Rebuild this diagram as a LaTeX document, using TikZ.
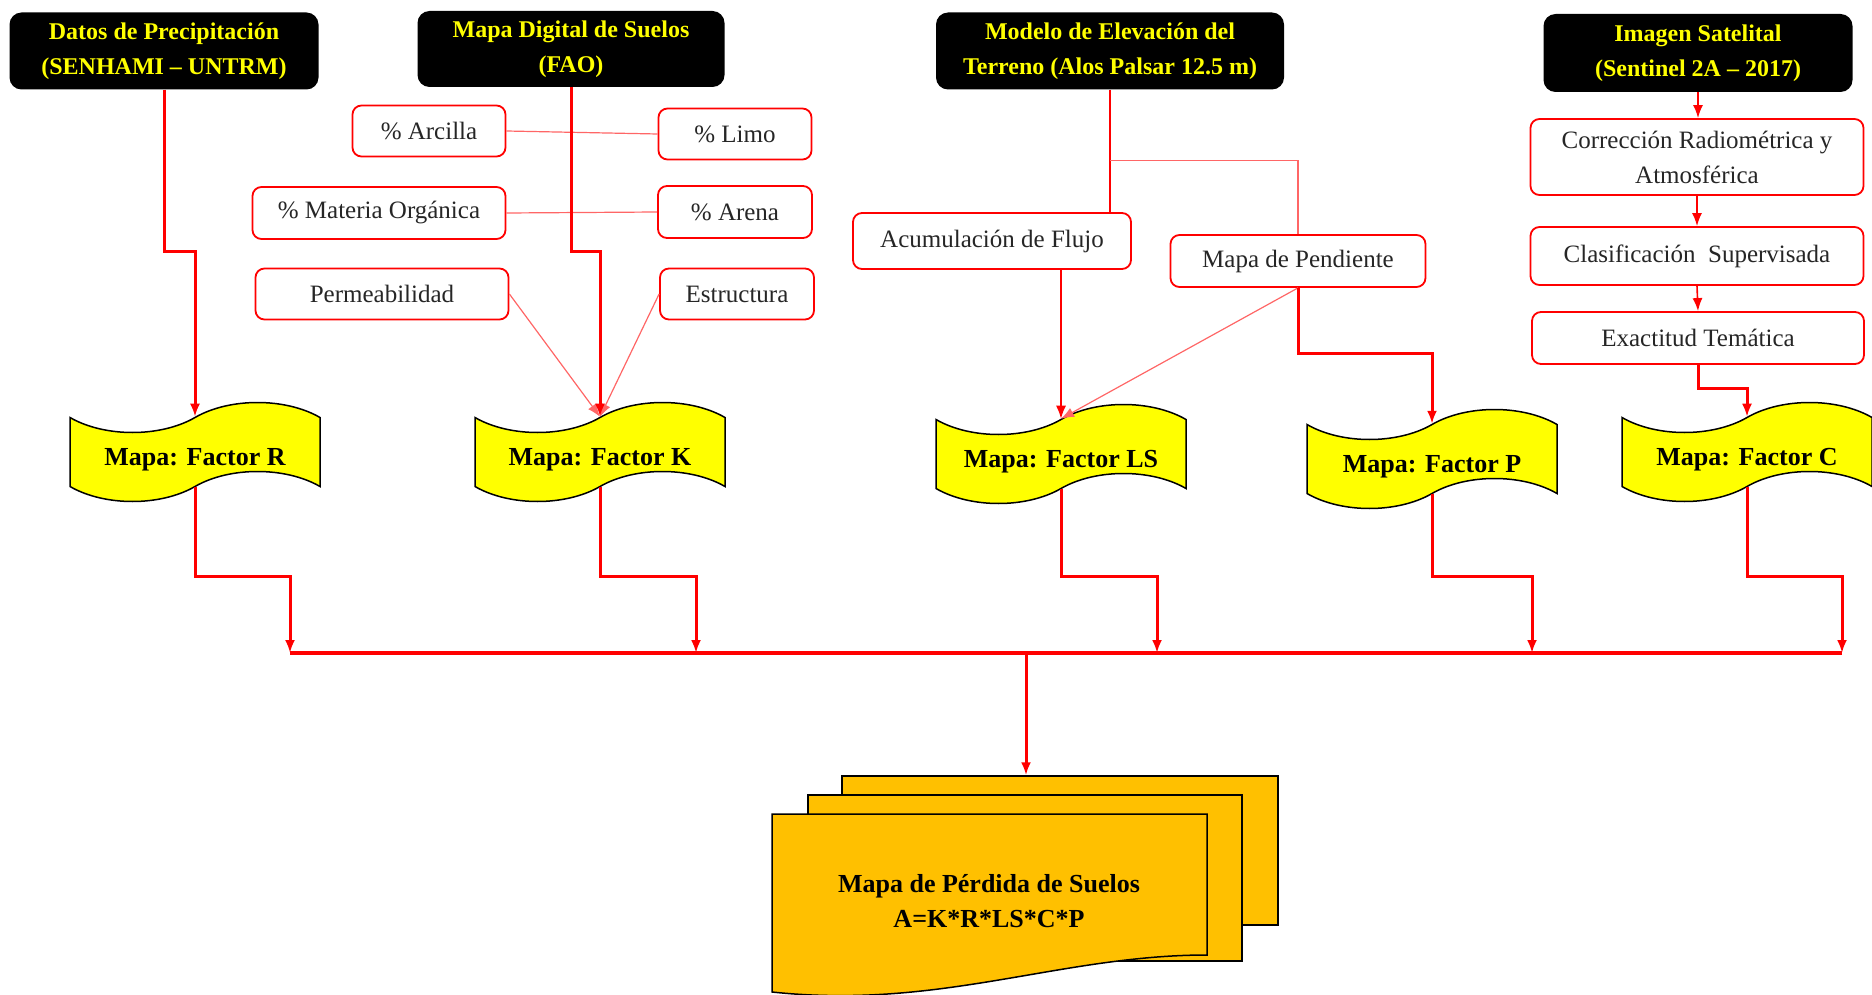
\documentclass[tikz,border=0pt]{standalone}
\usepackage{fontspec}
\setmainfont{Liberation Serif}
\usetikzlibrary{shapes.symbols, arrows.meta, positioning, calc}
\definecolor{rojo}{RGB}{255,0,0}
\definecolor{amarillo}{RGB}{255,255,0}
\definecolor{dorado}{RGB}{255,192,0}

\tikzset{
  fuente/.style={rounded corners=12pt, fill=black, text=amarillo, align=center,
    font=\fontsize{24}{35}\selectfont\bfseries, inner sep=2pt},
  proceso/.style={rounded corners=9pt, draw=rojo, line width=1.8pt, fill=white,
    text=black!85, align=center, font=\fontsize{25}{35}\selectfont, inner sep=2pt},
  factor/.style={tape, draw=black, line width=1.5pt, fill=amarillo,
    minimum width=250pt, minimum height=99pt, tape bend height=30pt,
    text height=29pt, text depth=3pt,
    font=\fontsize{26}{30}\selectfont\bfseries, inner sep=2pt},
  hoja/.style={draw=black, line width=1.5pt, fill=dorado},
  punta/.style={-{Latex[length=13pt,width=10pt]}},
  conn/.style={draw=rojo, line width=3pt, punta},
  fino/.style={draw=rojo, line width=1.6pt},
  tenue/.style={draw=rojo!60, line width=1.2pt},
  bus/.style={draw=rojo, line width=3.4pt},
}

\begin{document}
\begin{tikzpicture}[x=1pt,y=-1pt]
\useasboundingbox (0,0) rectangle (1872,995);

% Fuentes de datos
\node[fuente, minimum width=309pt, minimum height=77pt] (datos) at (164,51) {Datos de Precipitación\\(SENHAMI – UNTRM)};
\node[fuente, minimum width=307pt, minimum height=76pt] (suelos) at (571,49) {Mapa Digital de Suelos\\(FAO)};
\node[fuente, minimum width=348pt, minimum height=77pt] (dem) at (1110,51) {Modelo de Elevación del\\Terreno (Alos Palsar 12.5 m)};
\node[fuente, minimum width=309pt, minimum height=78pt] (sat) at (1698,53) {Imagen Satelital\\(Sentinel 2A – 2017)};

% Propiedades del suelo
\node[proceso, minimum width=153pt, minimum height=51pt] (arcilla) at (429,131) {\% Arcilla};
\node[proceso, minimum width=153pt, minimum height=51pt] (limo) at (735,134) {\% Limo};
\node[proceso, minimum width=253pt, minimum height=52pt] (materia) at (379,213) {\% Materia Orgánica};
\node[proceso, minimum width=154pt, minimum height=52pt] (arena) at (735,212) {\% Arena};
\node[proceso, minimum width=253pt, minimum height=51pt] (perm) at (382,294) {Permeabilidad};
\node[proceso, minimum width=154pt, minimum height=51pt] (estruct) at (737,294) {Estructura};

% Derivados del DEM
\node[proceso, minimum width=278pt, minimum height=56pt] (acum) at (992,241) {Acumulación de Flujo};
\node[proceso, minimum width=255pt, minimum height=52pt] (pend) at (1298,261) {Mapa de Pendiente};

% Procesamiento de la imagen
\node[proceso, minimum width=333pt, minimum height=76pt] (corr) at (1697,157) {Corrección Radiométrica y\\Atmosférica};
\node[proceso, minimum width=333pt, minimum height=58pt] (clas) at (1697,256) {Clasificación~ Supervisada};
\node[proceso, minimum width=332pt, minimum height=52pt] (exact) at (1698,338) {Exactitud Temática};

% Mapas de factores
\node[factor] (factR) at (195,452) {Mapa: Factor R};
\node[factor] (factK) at (600,452) {Mapa: Factor K};
\node[factor] (factLS) at (1061,454) {Mapa: Factor LS};
\node[factor] (factP) at (1432,459) {Mapa: Factor P};
\node[factor] (factC) at (1747,452) {Mapa: Factor C};

% Conectores superiores
\draw[conn] (datos.south) -- ++(0,162) -| (factR.north);
\draw[tenue] (arcilla.east) -- (limo.west);
\draw[tenue] (materia.east) -- (arena.west);
\draw[tenue, punta] (perm.east) -- (factK.north);
\draw[tenue, punta] (estruct.west) -- (factK.north);
\draw[conn] (suelos.south) -- ++(0,164) -| (factK.north);

\draw[fino] (dem.south) -- (dem.south |- acum.north);
\coordinate (ramal) at ($(dem.south)+(0,71)$);
\draw[tenue] (ramal) -| (pend.north);
\draw[fino, punta] (acum.south -| factLS.north) -- (factLS.north);
\draw[tenue, punta] (pend.south) -- (factLS.north);
\draw[conn] (pend.south) -- ++(0,66) -| (factP.north);

\draw[fino, punta] (sat.south) -- (sat.south |- corr.north);
\draw[fino, punta] (corr.south) -- (clas.north);
\draw[fino, punta] (clas.south) -- (exact.north);
\draw[conn] (exact.south) -- ++(0,24) -| (factC.north);

% Conectores al bus
\foreach \f/\x in {R/290,K/696,LS/1157,P/1532,C/1842}{
  \coordinate (jog\f) at (\x,576);
  \coordinate (in\f) at (\x,653);
  \draw[conn] (fact\f.south) |- (jog\f) -- (in\f);
}
\draw[bus] (inR) -- (inC);
\coordinate (bajada) at (1026,653);

% Mapa final
\node[hoja, minimum width=436pt, minimum height=149pt] (hoja3) at (1060,850.5) {};
\node[hoja, minimum width=434pt, minimum height=166pt] (hoja2) at (1025,878) {};
\draw[hoja] (772,814) -- (1207,814) -- (1207,955) .. controls (1060,955) and (940,1010) .. (772,992) -- cycle;
\node[align=center, font=\fontsize{26}{35}\selectfont\bfseries] (perdida) at (989,901) {Mapa de Pérdida de Suelos\\A=K*R*LS*C*P};
\draw[conn] (bajada) -- (bajada |- hoja3.north);
\end{tikzpicture}
\end{document}
